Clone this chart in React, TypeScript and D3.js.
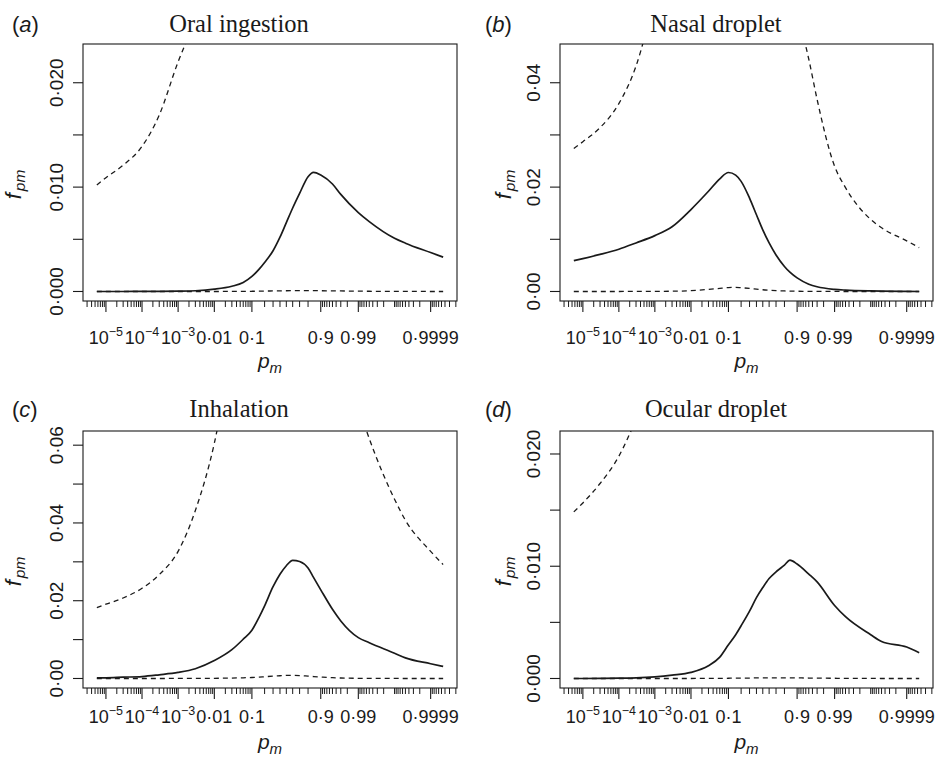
import React from "react";
import * as d3 from "d3";

// ---------- data ----------
const PM = [
  5.6e-6, 1e-5, 3e-5, 1e-4, 3e-4, 1e-3, 3e-3, 0.01, 0.03, 0.06, 0.1, 0.15, 0.2, 0.3, 0.4,
  0.5, 0.6, 0.7, 0.8, 0.85, 0.9, 0.95, 0.97, 0.99, 0.995, 0.999, 0.9995, 0.9999, 0.999955,
];

const PANEL_LETTERS = ["a", "b", "c", "d"];
const PANEL_TITLES = ["Oral ingestion", "Nasal droplet", "Inhalation", "Ocular droplet"];

const ORAL_MEAN = [0, 0, 0, 0.000005, 0.00001, 0.00003, 0.00007, 0.00022, 0.0005, 0.00086, 0.00144, 0.00214, 0.00278, 0.0039, 0.0052, 0.0066, 0.008, 0.0094, 0.011, 0.01142, 0.01117, 0.0103, 0.0093, 0.00756, 0.0067, 0.0051, 0.00463, 0.00373, 0.00329];
const ORAL_UPPER = [0.0102, 0.0109, 0.0121, 0.0139, 0.0169, 0.022, 0.0259, null, null, null, null, null, null, null, null, null, null, null, null, null, null, null, null, null, null, null, null, null, null];
const ORAL_LOWER = [0, 0, 0, 0, 0, 0, 0, 0, 0.000005, 0.00001, 0.00002, 0.00003, 0.00004, 0.00005, 0.00006, 0.00007, 0.00008, 0.00008, 0.00008, 0.00008, 0.00007, 0.00006, 0.00005, 0.00003, 0.00002, 0.00001, 0.00001, 0, 0];

const NASAL_MEAN = [0.0059, 0.0063, 0.0071, 0.0081, 0.0093, 0.0107, 0.0124, 0.0157, 0.0192, 0.0216, 0.0228, 0.0223, 0.0211, 0.0179, 0.0147, 0.0118, 0.0093, 0.007, 0.0048, 0.0037, 0.0026, 0.0014, 0.0009, 0.0004, 0.00026, 0.0001, 0.00006, 0.00002, 0];
const NASAL_UPPER = [0.0274, 0.0287, 0.0314, 0.036, 0.0432, 0.0566, null, null, null, null, null, null, null, null, null, null, null, null, null, null, 0.0535, 0.0445, 0.0368, 0.024, 0.0199, 0.0138, 0.0122, 0.0097, 0.0084];
const NASAL_LOWER = [0, 0, 0, 0, 0.00001, 0.00002, 0.00005, 0.00015, 0.0004, 0.0006, 0.00075, 0.0008, 0.00072, 0.00058, 0.00045, 0.00033, 0.00024, 0.00016, 0.0001, 0.00007, 0.00005, 0.00003, 0.00002, 0.00001, 0, 0, 0, 0, 0];

const INHAL_MEAN = [0.00017, 0.00017, 0.00034, 0.0005, 0.00095, 0.00155, 0.0025, 0.0046, 0.0074, 0.0101, 0.0124, 0.0158, 0.0187, 0.0236, 0.0268, 0.029, 0.0304, 0.0301, 0.0284, 0.026, 0.0228, 0.0178, 0.0148, 0.0105, 0.0092, 0.0065, 0.0053, 0.0038, 0.0031];
const INHAL_UPPER = [0.0182, 0.0191, 0.0207, 0.0232, 0.0267, 0.0327, 0.0432, 0.0605, 0.085, null, null, null, null, null, null, null, null, null, null, null, null, null, null, 0.07, 0.0617, 0.0461, 0.0407, 0.0327, 0.0293];
const INHAL_LOWER = [0, 0, 0, 0, 0, 0.00001, 0.00002, 0.00005, 0.0001, 0.00018, 0.00025, 0.00035, 0.00045, 0.0006, 0.0007, 0.00078, 0.0008, 0.00075, 0.0006, 0.0005, 0.00038, 0.0002, 0.00012, 0.00005, 0.00003, 0.00001, 0, 0, 0];

const OCULAR_MEAN = [0, 0, 0.00001, 0.00003, 0.00006, 0.00015, 0.0003, 0.00054, 0.00113, 0.0019, 0.003, 0.0039, 0.0047, 0.006, 0.0072, 0.0081, 0.0089, 0.0095, 0.0101, 0.01054, 0.0102, 0.0093, 0.0086, 0.0065, 0.0055, 0.0039, 0.0033, 0.0028, 0.0023];
const OCULAR_UPPER = [0.01484, 0.01564, 0.01737, 0.0198, 0.0231, null, null, null, null, null, null, null, null, null, null, null, null, null, null, null, null, null, null, null, null, null, null, null, null];
const OCULAR_LOWER = [0, 0, 0, 0, 0, 0, 0, 0, 0.000005, 0.00001, 0.00002, 0.00003, 0.00003, 0.00004, 0.00005, 0.00005, 0.00006, 0.00006, 0.00006, 0.00006, 0.00005, 0.00004, 0.00003, 0.00002, 0.00001, 0.00001, 0, 0, 0];

const MEANS = [ORAL_MEAN, NASAL_MEAN, INHAL_MEAN, OCULAR_MEAN];
const UPPERS = [ORAL_UPPER, NASAL_UPPER, INHAL_UPPER, OCULAR_UPPER];
const LOWERS = [ORAL_LOWER, NASAL_LOWER, INHAL_LOWER, OCULAR_LOWER];

const Y_MAX = [0.0228, 0.0456, 0.0612, 0.0212];
const Y_TICKS = [
  [0, 0.005, 0.01, 0.015, 0.02],
  [0, 0.01, 0.02, 0.03, 0.04],
  [0, 0.01, 0.02, 0.03, 0.04, 0.05, 0.06],
  [0, 0.005, 0.01, 0.015, 0.02],
];
const Y_TICK_LABELS = [
  ["0·000", null, "0·010", null, "0·020"],
  ["0·00", null, "0·02", null, "0·04"],
  ["0·00", null, "0·02", null, "0·04", null, "0·06"],
  ["0·000", null, "0·010", null, "0·020"],
];

const X_MAJOR = [1e-5, 1e-4, 1e-3, 0.01, 0.1, 0.9, 0.99, 0.9999];
const X_MAJOR_BASE = ["10", "10", "10", "0·01", "0·1", "0·9", "0·99", "0·9999"];
const X_MAJOR_SUP = ["−5", "−4", "−3", null, null, null, null, null];
const MINOR_MANTISSA = [2, 3, 4, 5, 6, 7, 8, 9];
const LOW_DECADES = [-6, -5, -4, -3, -2];
const HIGH_DECADES = [-2, -3, -4, -5];
const MID_MINOR = [0.2, 0.3, 0.4, 0.5, 0.6, 0.7, 0.8, 0.999];

// ---------- layout ----------
const W = 936;
const H = 757;
const LAYOUT = [
  { left: 83, right: 457, top: 44, bottom: 301, titleX: 239, titleY: 31.5, labelX: 12, tickLabelY: 344, xlabY: 368, ylabX: 21 },
  { left: 560, right: 933, top: 44, bottom: 301, titleX: 716, titleY: 31.5, labelX: 485, tickLabelY: 344, xlabY: 368, ylabX: 511 },
  { left: 83, right: 457, top: 431, bottom: 688, titleX: 239, titleY: 417, labelX: 12, tickLabelY: 723, xlabY: 749, ylabX: 21 },
  { left: 560, right: 933, top: 431, bottom: 688, titleX: 716, titleY: 417, labelX: 485, tickLabelY: 723, xlabY: 749, ylabX: 511 },
];

const SANS = "'Liberation Sans', Arial, Helvetica, sans-serif";
const SERIF = "'Liberation Serif', 'Times New Roman', serif";
const INK = "#1a1a1a";

const logOdds = (p: number) => Math.log10(p / (1 - p));

const minorTicks: number[] = [];
LOW_DECADES.forEach((k) => MINOR_MANTISSA.forEach((m) => minorTicks.push(m * Math.pow(10, k))));
HIGH_DECADES.forEach((k) => MINOR_MANTISSA.forEach((m) => minorTicks.push(1 - m * Math.pow(10, k))));
MID_MINOR.forEach((v) => minorTicks.push(v));

function Panel({ i }: { i: number }) {
  const L = LAYOUT[i];
  const lo0 = logOdds(PM[0]);
  const lo1 = logOdds(PM[PM.length - 1]);
  const r = lo1 - lo0;
  const x = d3.scaleLinear().domain([lo0 - 0.04 * r, lo1 + 0.04 * r]).range([L.left, L.right]);
  const ymax = Y_MAX[i];
  const y = d3.scaleLinear().domain([-0.04 * ymax, 1.04 * ymax]).range([L.bottom, L.top]);
  const xp = (p: number) => x(logOdds(p));
  const [d0, d1] = x.domain();

  const mk = (vals: (number | null)[]) =>
    d3
      .line<number>()
      .defined((_, k) => vals[k] != null)
      .x((_, k) => xp(PM[k]))
      .y((_, k) => y(vals[k] as number))
      .curve(d3.curveMonotoneX)(PM.map((_, k) => k)) || "";

  const clipId = `clip-${i}`;
  const cx = (L.left + L.right) / 2;
  const cy = (L.top + L.bottom) / 2 + 12;

  return (
    <g>
      <defs>
        <clipPath id={clipId}>
          <rect x={L.left} y={L.top} width={L.right - L.left} height={L.bottom - L.top} />
        </clipPath>
      </defs>
      <text x={L.labelX} y={L.titleY} fontFamily={SANS} fontSize={22} fill={INK}>
        (<tspan fontStyle="italic">{PANEL_LETTERS[i]}</tspan>)
      </text>
      <text x={L.titleX} y={L.titleY} textAnchor="middle" fontFamily={SERIF} fontSize={24.5} fill={INK}>
        {PANEL_TITLES[i]}
      </text>

      <g clipPath={`url(#${clipId})`} fill="none" stroke={INK}>
        <path d={mk(LOWERS[i])} strokeWidth={1.3} strokeDasharray="5 4" />
        <path d={mk(UPPERS[i])} strokeWidth={1.3} strokeDasharray="5 4" />
        <path d={mk(MEANS[i])} strokeWidth={1.7} />
      </g>

      <rect x={L.left} y={L.top} width={L.right - L.left} height={L.bottom - L.top} fill="none" stroke={INK} strokeWidth={1.1} />

      {Y_TICKS[i].map((t, k) => (
        <g key={`yt${k}`}>
          <line x1={L.left} x2={L.left - 10} y1={y(t)} y2={y(t)} stroke={INK} strokeWidth={1.1} />
          {Y_TICK_LABELS[i][k] && (
            <text
              transform={`translate(${L.left - 20},${y(t)}) rotate(-90)`}
              textAnchor="middle"
              fontFamily={SANS}
              fontSize={19}
              fill={INK}
            >
              {Y_TICK_LABELS[i][k]}
            </text>
          )}
        </g>
      ))}
      <text transform={`translate(${L.ylabX},${cy}) rotate(-90)`} textAnchor="middle" fontFamily={SANS} fill={INK}>
        <tspan fontStyle="italic" fontSize={22}>f</tspan>
        <tspan fontStyle="italic" fontSize={15.5} dy={4} dx={2}>pm</tspan>
      </text>

      {minorTicks
        .filter((p) => logOdds(p) >= d0 && logOdds(p) <= d1)
        .map((p, k) => (
          <line key={`mn${k}`} x1={xp(p)} x2={xp(p)} y1={L.bottom} y2={L.bottom + 6} stroke={INK} strokeWidth={1} />
        ))}
      {X_MAJOR.map((p, k) => (
        <g key={`mj${k}`}>
          <line x1={xp(p)} x2={xp(p)} y1={L.bottom} y2={L.bottom + 11} stroke={INK} strokeWidth={1.1} />
          <text x={xp(p)} y={L.tickLabelY} textAnchor="middle" fontFamily={SANS} fontSize={18} fill={INK}>
            {X_MAJOR_BASE[k]}
            {X_MAJOR_SUP[k] && (
              <tspan fontSize={12.5} dy={-8}>
                {X_MAJOR_SUP[k]}
              </tspan>
            )}
          </text>
        </g>
      ))}
      <text x={cx} y={L.xlabY} textAnchor="middle" fontFamily={SANS} fill={INK}>
        <tspan fontStyle="italic" fontSize={21}>p</tspan>
        <tspan fontStyle="italic" fontSize={15} dy={5}>m</tspan>
      </text>
    </g>
  );
}

export default function App() {
  return (
    <svg
      width={W}
      height={H}
      viewBox={`0 0 ${W} ${H}`}
      style={{ position: "absolute", left: 0, top: 0, background: "#fff" }}
    >
      <rect x={0} y={0} width={W} height={H} fill="#fff" />
      {[0, 1, 2, 3].map((i) => (
        <Panel key={i} i={i} />
      ))}
    </svg>
  );
}
